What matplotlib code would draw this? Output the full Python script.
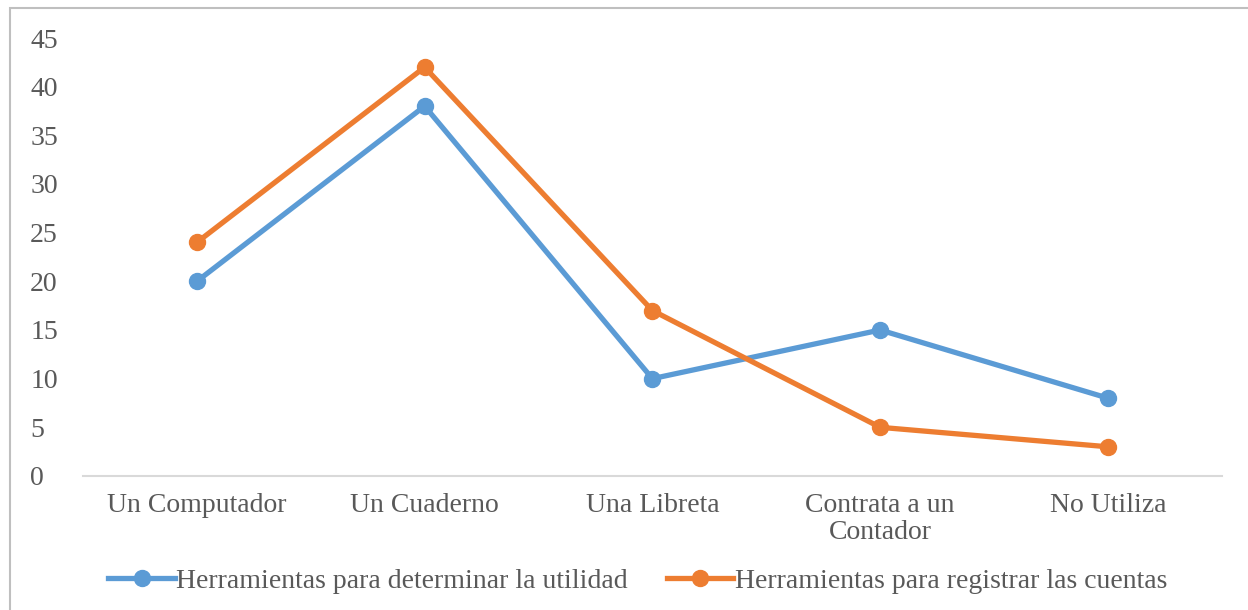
import matplotlib
matplotlib.use("Agg")
import matplotlib.pyplot as plt
from matplotlib.patches import Rectangle

categorias = ["Un Computador", "Un Cuaderno", "Una Libreta", "Contrata a un\nContador", "No Utiliza"]
utilidad = [20, 38, 10, 15, 8]
cuentas = [24, 42, 17, 5, 3]
serie_nombres = ["Herramientas para determinar la utilidad", "Herramientas para registrar las cuentas"]

plt.rcParams['font.family'] = ['Liberation Serif', 'DejaVu Serif']
gris = '#595959'

fig = plt.figure(figsize=(12.48, 6.10), dpi=100)
ax = fig.add_axes([0.0665, 0.2197, 0.9125, 0.718])

# marco del grafico
fig.patches.append(Rectangle((10 / 1248, -0.1), 1.2, 1 - 8 / 610 + 0.1, transform=fig.transFigure,
                             fill=False, edgecolor='#BFBFBF', linewidth=1.5))

x = range(len(categorias))
ax.plot(x, utilidad, color='#5B9BD5', linewidth=3.8, marker='o', markersize=11.5, label=serie_nombres[0])
ax.plot(x, cuentas, color='#ED7D31', linewidth=3.8, marker='o', markersize=11.5, label=serie_nombres[1])

ax.set_xlim(-0.5, len(categorias) - 0.5)
ax.set_ylim(0, 45)
ax.set_yticks(range(0, 50, 5))
ax.set_xticks(list(x))
ax.set_xticklabels(categorias, linespacing=1.1)
ax.tick_params(axis='both', length=0, labelsize=20, colors=gris)
ax.tick_params(axis='x', pad=12)
ax.tick_params(axis='y', pad=38)
for lbl in ax.get_yticklabels():
    lbl.set_horizontalalignment('left')

for s in ['top', 'right', 'left']:
    ax.spines[s].set_visible(False)
ax.spines['bottom'].set_color('#D9D9D9')
ax.spines['bottom'].set_linewidth(1.5)
ax.set_clip_on(False)

leg = fig.legend(loc='center', bbox_to_anchor=(0.511, 0.047), ncol=2, frameon=False,
                 fontsize=20, handlelength=2.4, handletextpad=0.05, columnspacing=1.4)
for t in leg.get_texts():
    t.set_color(gris)

fig.savefig("out.png", dpi=100)
